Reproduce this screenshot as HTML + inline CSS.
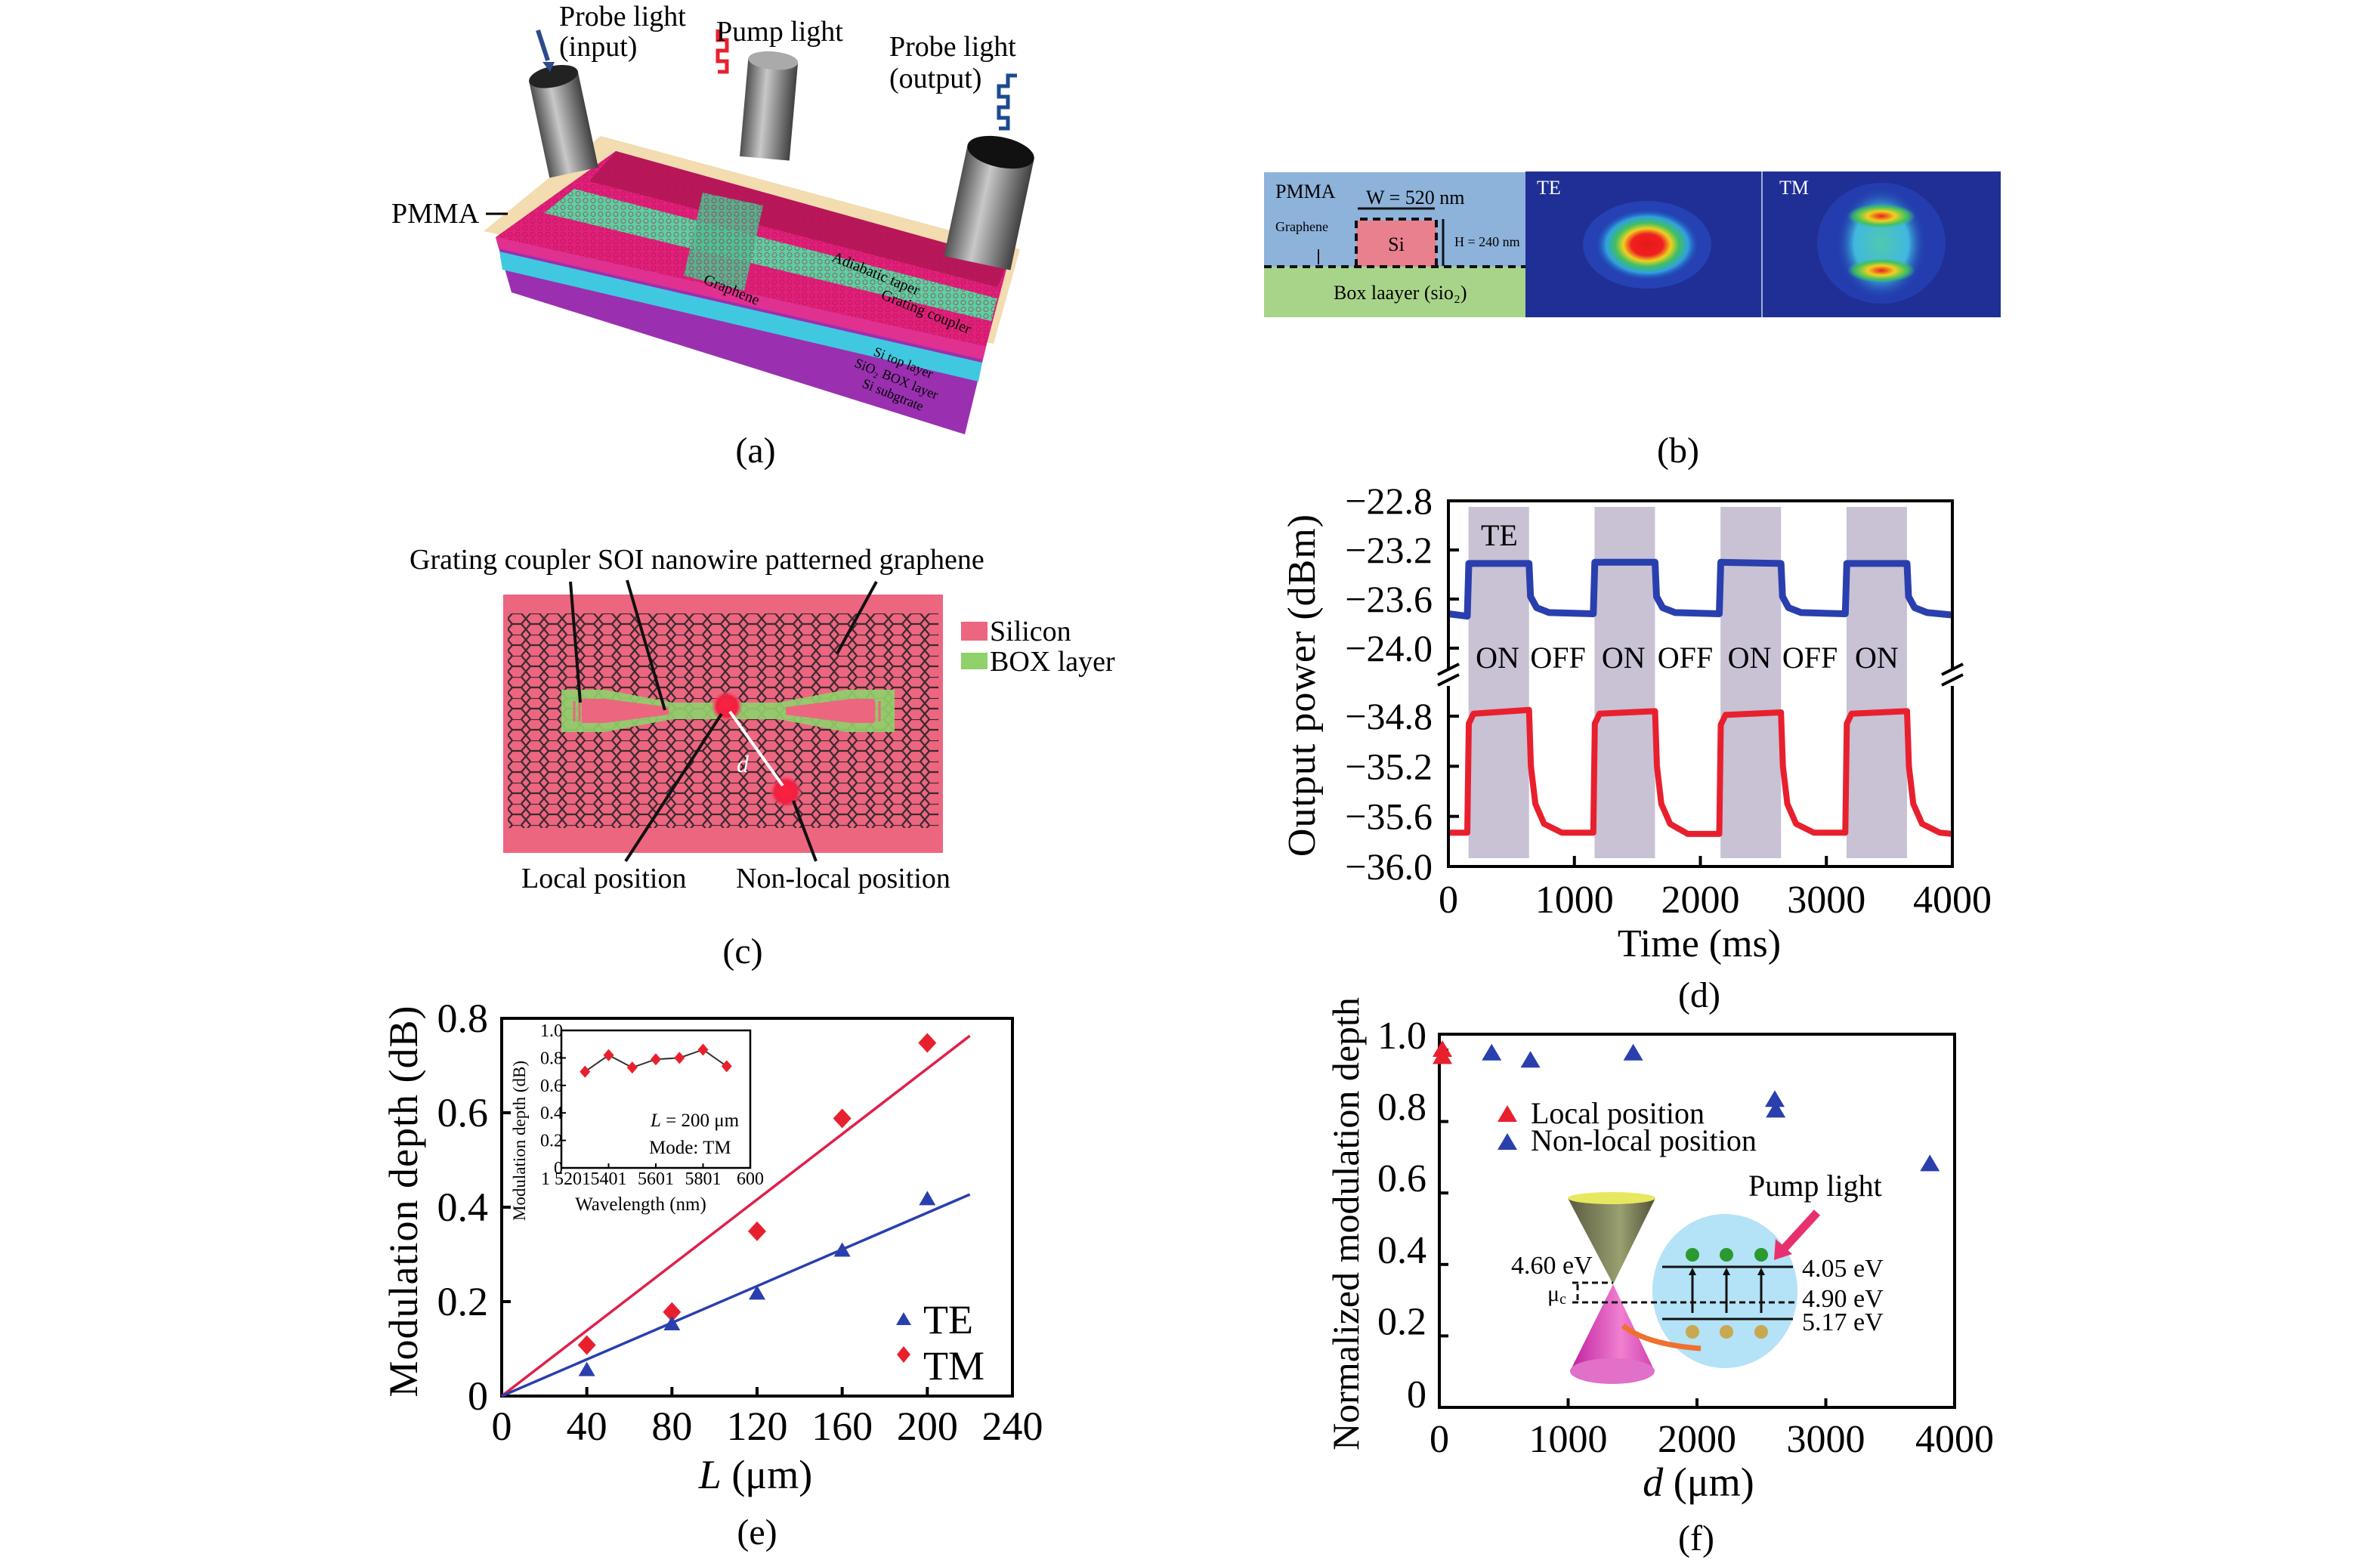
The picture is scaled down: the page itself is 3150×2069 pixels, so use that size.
<!DOCTYPE html>
<html><head><meta charset="utf-8"><style>
html,body{margin:0;padding:0;background:#fff;}
svg{display:block;font-family:"Liberation Serif",serif;}
</style></head><body>
<svg id="fig" xmlns="http://www.w3.org/2000/svg" width="3150" height="2069" viewBox="0 0 3150 2069">
<defs>
<pattern id="hex" width="24" height="28" patternUnits="userSpaceOnUse">
<path d="M6,0 L18,0 L24,7 L18,14 L6,14 L0,7 Z M6,14 L0,21 L6,28 M18,14 L24,21 L18,28" fill="none" stroke="#3a2a30" stroke-width="2.2"/>
</pattern>
<pattern id="hexfine" width="10" height="9" patternUnits="userSpaceOnUse">
<circle cx="5" cy="4.5" r="3" fill="none" stroke="#b01050" stroke-width="1" opacity="0.6"/>
</pattern>
<radialGradient id="teg" cx="50%" cy="50%" r="50%">
<stop offset="0" stop-color="#e81818"/><stop offset="0.3" stop-color="#f02020"/><stop offset="0.45" stop-color="#f0d020"/><stop offset="0.6" stop-color="#40c060"/><stop offset="0.78" stop-color="#30a0e0"/><stop offset="1" stop-color="#1c3aa8" stop-opacity="0"/>
</radialGradient>
<radialGradient id="tmg" cx="50%" cy="50%" r="50%">
<stop offset="0" stop-color="#50c8b0"/><stop offset="0.6" stop-color="#40b8e0"/><stop offset="1" stop-color="#1c3aa8" stop-opacity="0"/>
</radialGradient>
<radialGradient id="lobe" cx="50%" cy="50%" r="50%">
<stop offset="0" stop-color="#e82020"/><stop offset="0.4" stop-color="#f0d020"/><stop offset="0.75" stop-color="#40c060"/><stop offset="1" stop-color="#40c060" stop-opacity="0"/>
</radialGradient>
<linearGradient id="cyl" x1="0" x2="1"><stop offset="0" stop-color="#505050"/><stop offset="0.4" stop-color="#c8c8c8"/><stop offset="1" stop-color="#404040"/></linearGradient>
<linearGradient id="cone1" x1="0" x2="1"><stop offset="0" stop-color="#5a5a40"/><stop offset="0.6" stop-color="#9aa070"/><stop offset="1" stop-color="#505038"/></linearGradient>
<linearGradient id="cone2" x1="0" x2="1"><stop offset="0" stop-color="#c020a0"/><stop offset="0.6" stop-color="#f080d0"/><stop offset="1" stop-color="#d040b0"/></linearGradient>
<radialGradient id="redspot"><stop offset="0" stop-color="#ff2040"/><stop offset="0.7" stop-color="#f02040"/><stop offset="1" stop-color="#f06080" stop-opacity="0.3"/></radialGradient>
</defs>

<!-- ===== Panel (a) ===== -->
<g>
<polygon points="795,180 1350,330 1315,455 640,306" fill="#f2dcb0"/>
<polygon points="815,200 1335,345 1305,459 656,314" fill="#e0207a"/>
<polygon points="815,200 1335,345 1320,380 780,240" fill="#b8185a"/>
<polygon points="760,250 1320,395 1312,425 720,282" fill="#5cd0a0"/>
<polygon points="930,255 1010,272 985,385 905,365" fill="#4cc090" opacity="0.9"/>
<polygon points="815,200 1335,345 1305,459 656,314" fill="url(#hexfine)"/>
<polygon points="656,314 1305,459 1277,575 677,387" fill="#9a30b0"/>
<polygon points="656,314 1305,459 1301,476 660,329" fill="#e03090"/>
<polygon points="661,333 1300,480 1295,505 665,357" fill="#40c8e0"/>
<text x="930" y="375" font-size="20" transform="rotate(22 930 375)">Graphene</text>
<text x="1100" y="345" font-size="20" transform="rotate(22 1100 345)">Adiabatic taper</text>
<text x="1165" y="395" font-size="20" transform="rotate(22 1165 395)">Grating coupler</text>
<text x="1155" y="470" font-size="18" transform="rotate(22 1155 470)">Si top layer</text>
<text x="1130" y="485" font-size="18" transform="rotate(22 1130 485)">SiO₂ BOX layer</text>
<text x="1140" y="512" font-size="18" transform="rotate(22 1140 512)">Si subgtrate</text>
<g transform="rotate(-12 745 160)"><rect x="712" y="100" width="66" height="130" fill="url(#cyl)"/><ellipse cx="745" cy="100" rx="33" ry="14" fill="#222"/></g>
<g transform="rotate(5 1018 140)"><rect x="985" y="80" width="66" height="130" fill="url(#cyl)"/><ellipse cx="1018" cy="80" rx="33" ry="12" fill="#aaa"/></g>
<g transform="rotate(12 1310 270)"><rect x="1265" y="200" width="90" height="150" fill="url(#cyl)"/><ellipse cx="1310" cy="200" rx="45" ry="20" fill="#111"/></g>
<path d="M712,40 L725,80" stroke="#2c4a8c" stroke-width="6"/><polygon points="718,82 734,82 728,95" fill="#2c4a8c"/>
<path d="M950,95 h12 v-14 h-12 v-14 h12 v-14 h-12 v-14" fill="none" stroke="#e8202e" stroke-width="5"/>
<path d="M1322,170 h12 v-14 h-12 v-14 h12 v-14 h-12 v-14 h12 v-14 h12" fill="none" stroke="#1c4a90" stroke-width="5"/>
<g font-size="38">
<text x="740" y="34">Probe light</text><text x="740" y="74">(input)</text>
<text x="948" y="54">Pump light</text>
<text x="1177" y="74">Probe light</text><text x="1177" y="116">(output)</text>
<text x="518" y="295">PMMA</text>
</g>
<path d="M643,283 L672,283" stroke="#000" stroke-width="3"/>
<text x="1000" y="612" font-size="48" text-anchor="middle">(a)</text>
</g>

<!-- ===== Panel (b) ===== -->
<g>
<rect x="1673" y="228" width="346" height="125" fill="#8db3da"/>
<rect x="1673" y="353" width="346" height="67" fill="#a8d48a"/>
<rect x="1795" y="292" width="106" height="61" fill="#e8808e"/>
<path d="M1673,353 H2019 M1795,353 V290 H1901 V353" fill="none" stroke="#111" stroke-width="4" stroke-dasharray="10 7"/>
<path d="M1797,276 H1899 M1910,290 V352" stroke="#111" stroke-width="3"/>
<path d="M1745,330 L1745,350" stroke="#111" stroke-width="2"/>
<text x="1688" y="262" font-size="26">PMMA</text>
<text x="1808" y="270" font-size="26">W = 520 nm</text>
<text x="1688" y="306" font-size="18">Graphene</text>
<text x="1848" y="332" font-size="26" text-anchor="middle">Si</text>
<text x="1925" y="326" font-size="18">H = 240 nm</text>
<text x="1765" y="396" font-size="26">Box laayer (sio₂)</text>
<rect x="2019" y="227" width="313" height="193" fill="#1f2f95"/>
<ellipse cx="2180" cy="324" rx="85" ry="58" fill="#2848c0" opacity="0.7"/>
<ellipse cx="2180" cy="324" rx="70" ry="48" fill="url(#teg)"/>
<text x="2034" y="257" font-size="26" fill="#fff">TE</text>
<rect x="2332" y="227" width="316" height="193" fill="#1f2f95"/>
<line x1="2332" y1="227" x2="2332" y2="420" stroke="#a0b0d0" stroke-width="2"/>
<ellipse cx="2490" cy="322" rx="85" ry="80" fill="#2848c0" opacity="0.6"/>
<ellipse cx="2490" cy="322" rx="60" ry="75" fill="url(#tmg)"/>
<ellipse cx="2490" cy="286" rx="45" ry="16" fill="url(#lobe)"/>
<ellipse cx="2490" cy="358" rx="45" ry="16" fill="url(#lobe)"/>
<text x="2355" y="257" font-size="26" fill="#fff">TM</text>
<text x="2221" y="612" font-size="48" text-anchor="middle">(b)</text>
</g>

<!-- ===== Panel (c) ===== -->
<g>
<rect x="666" y="787" width="582" height="342" fill="#ec6680"/>
<rect x="672" y="812" width="570" height="284" fill="url(#hex)"/>
<polygon points="743,913 800,913 890,930 1030,930 1120,913 1184,913 1184,969 1120,969 1030,952 890,952 800,969 743,969" fill="#8fd16a" opacity="0.9"/>
<polygon points="770,925 800,925 885,936 885,946 800,957 770,957" fill="#ec6680"/>
<polygon points="1157,925 1127,925 1040,936 1040,946 1127,957 1157,957" fill="#ec6680"/>
<path d="M760,928 V955 M767,928 V955 M774,928 V955 M1150,928 V955 M1157,928 V955 M1164,928 V955" stroke="#ec6680" stroke-width="3"/>
<circle cx="962" cy="935" r="20" fill="url(#redspot)"/>
<circle cx="1040" cy="1048" r="21" fill="url(#redspot)"/>
<path d="M966,942 L1036,1040" stroke="#fff" stroke-width="4"/>
<text x="975" y="1022" font-size="32" font-style="italic" fill="#fff">d</text>
<path d="M755,770 L768,930 M830,768 L880,940 M1160,770 L1108,865 M955,945 L828,1140 M1050,1060 L1080,1140" stroke="#111" stroke-width="4" fill="none"/>
<text x="542" y="753" font-size="38">Grating coupler SOI nanowire patterned graphene</text>
<rect x="1272" y="823" width="35" height="25" fill="#ec6680"/>
<text x="1310" y="848" font-size="38">Silicon</text>
<rect x="1272" y="864" width="35" height="22" fill="#8fd16a"/>
<text x="1310" y="888" font-size="38">BOX layer</text>
<text x="690" y="1175" font-size="38">Local position</text>
<text x="974" y="1175" font-size="38">Non-local position</text>
<text x="983" y="1275" font-size="48" text-anchor="middle">(c)</text>
</g>

<g id="pd"></g>
<g id="pe"></g>
<g id="pf"></g>
</svg>
<script>
// ---- Panel d data ----
const dTimeTicks = [0, 1000, 2000, 3000, 4000];
const dUpperTicks = [-22.8, -23.2, -23.6, -24.0];
const dLowerTicks = [-34.8, -35.2, -35.6, -36.0];
const dOnStart = [160, 1160, 2160, 3160];
const dOnEnd = [640, 1640, 2640, 3640];
const dBlueT = [0,150,162,640,652,700,800,1150,1162,1640,1652,1700,1800,2150,2162,2640,2652,2700,2800,3150,3162,3640,3652,3700,3800,4000];
const dBlueV = [-23.72,-23.74,-23.31,-23.31,-23.58,-23.67,-23.71,-23.72,-23.30,-23.30,-23.58,-23.67,-23.71,-23.72,-23.30,-23.31,-23.58,-23.67,-23.71,-23.72,-23.31,-23.31,-23.58,-23.67,-23.71,-23.73];
const dRedT = [0,150,162,200,640,655,690,760,900,1150,1162,1200,1640,1655,1690,1760,1900,2150,2162,2200,2640,2655,2690,2760,2900,3150,3162,3200,3640,3655,3690,3760,3900,4000];
const dRedV = [-35.73,-35.73,-34.86,-34.78,-34.75,-35.2,-35.5,-35.66,-35.73,-35.73,-34.86,-34.78,-34.76,-35.2,-35.5,-35.66,-35.74,-35.74,-34.87,-34.79,-34.77,-35.2,-35.5,-35.66,-35.73,-35.73,-34.86,-34.78,-34.76,-35.2,-35.5,-35.66,-35.73,-35.74];
const dStateLabels = ["ON","OFF","ON","OFF","ON","OFF","ON"];
const dStateTimes = [390, 870, 1390, 1880, 2390, 2870, 3400];

// ---- Panel e data ----
const eXTicks = [0, 40, 80, 120, 160, 200, 240];
const eYTicks = [0, 0.2, 0.4, 0.6, 0.8];
const eYTickLabels = ["0", "0.2", "0.4", "0.6", "0.8"];
const eL = [40, 80, 120, 160, 200];
const eTE = [0.055, 0.152, 0.217, 0.308, 0.417];
const eTM = [0.108, 0.178, 0.349, 0.588, 0.748];
const eFitX = [0, 220];
const eFitTE = [0, 0.427];
const eFitTM = [0, 0.763];
const insetWl = [1530, 1540, 1550, 1560, 1570, 1580, 1590];
const insetDepth = [0.70, 0.82, 0.73, 0.79, 0.80, 0.86, 0.74];
const insetXTicks = [1520, 1540, 1560, 1580, 1600];
const insetXTickLabels = ["1 5201", "5401", "5601", "5801", "600"];
const insetYTicks = [0, 0.2, 0.4, 0.6, 0.8, 1.0];
const insetYTickLabels = ["0", "0.2", "0.4", "0.6", "0.8", "1.0"];

// ---- Panel f data ----
const fXTicks = [0, 1000, 2000, 3000, 4000];
const fYTicks = [0, 0.2, 0.4, 0.6, 0.8, 1.0];
const fYTickLabels = ["0", "0.2", "0.4", "0.6", "0.8", "1.0"];
const fLocalD = [0, 0];
const fLocalV = [1.0, 0.98];
const fNonlocalD = [406, 707, 1505, 2604, 2611, 3808];
const fNonlocalV = [0.99, 0.97, 0.99, 0.86, 0.83, 0.68];

const NS = "http://www.w3.org/2000/svg";
function mk(parent, tag, attrs, text) {
  const el = document.createElementNS(NS, tag);
  for (const k in attrs) el.setAttribute(k, attrs[k]);
  if (text !== undefined) el.textContent = text;
  parent.appendChild(el);
  return el;
}
function fmtMinus(v){ return v.toFixed(1).replace("-", "\u2212"); }

// ===== Panel d =====
(function(){
  const g = document.getElementById("pd");
  const L=1917, R=2584, T=663, B=1147;
  const x = t => L + (t/4000)*(R-L);
  const yU = v => 663 + (-22.8 - v)/1.2*(858-663);
  const yL = v => 948 + (-34.8 - v)/1.2*(1147-948);
  for (let i=0;i<dOnStart.length;i++){
    const r = mk(g,"rect",{x:x(dOnStart[i]),y:671,width:x(dOnEnd[i])-x(dOnStart[i]),height:1136-671,fill:"#c9c1d4"});
    
    
  }
  let p="";
  dBlueT.forEach((t,i)=>{p+=(i?"L":"M")+x(t).toFixed(1)+","+yU(dBlueV[i]).toFixed(1);});
  const bl = mk(g,"path",{d:p,fill:"none",stroke:"#2a3fae","stroke-width":9,"stroke-linejoin":"round"});
  
  
  p="";
  dRedT.forEach((t,i)=>{p+=(i?"L":"M")+x(t).toFixed(1)+","+yL(dRedV[i]).toFixed(1);});
  const rl = mk(g,"path",{d:p,fill:"none",stroke:"#e8202e","stroke-width":8,"stroke-linejoin":"round"});
  
  
  mk(g,"path",{d:`M${L},${896-10} V${T} H${R} V${896-10} M${L},${896+12} V${B} H${R} V${896+12}`,fill:"none",stroke:"#000","stroke-width":4});
  mk(g,"path",{d:`M${L-14},${893} L${L+14},${879} M${L-14},${907} L${L+14},${893} M${R-14},${893} L${R+14},${879} M${R-14},${907} L${R+14},${893}`,stroke:"#000","stroke-width":4});
  dUpperTicks.forEach(v=>{
    if (v!==-22.8) mk(g,"line",{x1:L,x2:L+14,y1:yU(v),y2:yU(v),stroke:"#000","stroke-width":4});
    const t = mk(g,"text",{x:1896,y:yU(v)+17,"font-size":50,"text-anchor":"end"},fmtMinus(v));
    
    
  });
  dLowerTicks.forEach(v=>{
    if (v!==-36.0) mk(g,"line",{x1:L,x2:L+14,y1:yL(v),y2:yL(v),stroke:"#000","stroke-width":4});
    const t = mk(g,"text",{x:1896,y:yL(v)+17,"font-size":50,"text-anchor":"end"},fmtMinus(v));
    
    
  });
  dTimeTicks.forEach(v=>{
    if (v>0 && v<4000) mk(g,"line",{x1:x(v),x2:x(v),y1:B,y2:B-14,stroke:"#000","stroke-width":4});
    const t = mk(g,"text",{x:x(v),y:1208,"font-size":52,"text-anchor":"middle"},String(v));
    
    
  });
  dStateLabels.forEach((s,i)=>{
    const t = mk(g,"text",{x:x(dStateTimes[i]),y:884,"font-size":40,"text-anchor":"middle"},s);
    
    
  });
  const te = mk(g,"text",{x:1960,y:722,"font-size":40},"TE");
  
  
  const xt = mk(g,"text",{x:2249,y:1266,"font-size":52,"text-anchor":"middle"},"Time (ms)");
  
  
  const yt = mk(g,"text",{x:0,y:0,"font-size":52,"text-anchor":"middle","letter-spacing":"1",transform:"translate(1740,907) rotate(-90)"},"Output power (dBm)");
  
  
  const lb = mk(g,"text",{x:2249,y:1333,"font-size":48,"text-anchor":"middle"},"(d)");
  
  
})();

// ===== Panel e =====
(function(){
  const g = document.getElementById("pe");
  const L=664, R=1340, T=1348, B=1848;
  const x = v => L + v/240*(R-L);
  const y = v => B - v/0.8*(B-T);
  mk(g,"rect",{x:L,y:T,width:R-L,height:B-T,fill:"none",stroke:"#000","stroke-width":4});
  eXTicks.forEach(v=>{
    if (v>0 && v<240) mk(g,"line",{x1:x(v),x2:x(v),y1:B,y2:B-12,stroke:"#000","stroke-width":4});
    const t = mk(g,"text",{x:x(v),y:1906,"font-size":54,"text-anchor":"middle"},String(v));
    
    
  });
  eYTicks.forEach((v,i)=>{
    if (v>0 && v<0.8) mk(g,"line",{x1:L,x2:L+12,y1:y(v),y2:y(v),stroke:"#000","stroke-width":4});
    const t = mk(g,"text",{x:646,y:y(v)+18,"font-size":54,"text-anchor":"end"},eYTickLabels[i]);
    
    
  });
  const fm = mk(g,"line",{x1:x(eFitX[0]),y1:y(eFitTM[0]),x2:x(eFitX[1]),y2:y(eFitTM[1]),stroke:"#e0204a","stroke-width":3.5});
  
  
  const fe = mk(g,"line",{x1:x(eFitX[0]),y1:y(eFitTE[0]),x2:x(eFitX[1]),y2:y(eFitTE[1]),stroke:"#2a3fae","stroke-width":3.5});
  
  
  eL.forEach((l,i)=>{
    const cx=x(l), cy=y(eTM[i]);
    const d = mk(g,"polygon",{points:`${cx},${cy-13} ${cx+12},${cy} ${cx},${cy+13} ${cx-12},${cy}`,fill:"#e8202e"});
    
    
    const ty=y(eTE[i]);
    const tr = mk(g,"polygon",{points:`${cx},${ty-11} ${cx+11},${ty+8} ${cx-11},${ty+8}`,fill:"#2a3fae"});
    
    
  });
  mk(g,"polygon",{points:"1196,1737 1206,1754 1186,1754",fill:"#2a3fae"});
  mk(g,"polygon",{points:"1196,1782 1205,1793 1196,1804 1187,1793",fill:"#e8202e"});
  const lt = mk(g,"text",{x:1222,y:1765,"font-size":54},"TE");
  
  
  const lm = mk(g,"text",{x:1222,y:1826,"font-size":54},"TM");
  
  
  const iL=743, iR=993, iT=1364, iB=1546;
  const ix = v => iL + (v-1520)/80*(iR-iL);
  const iy = v => iB - v*(iB-iT);
  mk(g,"rect",{x:iL,y:iT,width:iR-iL,height:iB-iT,fill:"#fff",stroke:"#000","stroke-width":2.5});
  insetXTicks.forEach((v,i)=>{
    if (v>1520 && v<1600) mk(g,"line",{x1:ix(v),x2:ix(v),y1:iB,y2:iB-6,stroke:"#000","stroke-width":2});
    const t = mk(g,"text",{x:ix(v)+(i===0?6:0),y:1568,"font-size":24,"text-anchor":"middle"},insetXTickLabels[i]);
    
    
  });
  insetYTicks.forEach((v,i)=>{
    if (v>0 && v<1) mk(g,"line",{x1:iL,x2:iL+6,y1:iy(v),y2:iy(v),stroke:"#000","stroke-width":2});
    const t = mk(g,"text",{x:iL+2,y:iy(v)+8,"font-size":24,"text-anchor":"end"},insetYTickLabels[i]);
    
    
  });
  let p="";
  insetWl.forEach((w,i)=>{p+=(i?"L":"M")+ix(w)+","+iy(insetDepth[i]);});
  mk(g,"path",{d:p,fill:"none",stroke:"#333","stroke-width":2});
  insetWl.forEach((w,i)=>{
    const cx=ix(w), cy=iy(insetDepth[i]);
    const d = mk(g,"polygon",{points:`${cx},${cy-8} ${cx+7},${cy} ${cx},${cy+8} ${cx-7},${cy}`,fill:"#e8202e"});
    
    
  });
  const a1 = mk(g,"text",{x:861,y:1491,"font-size":25},"");
  mk(a1,"tspan",{"font-style":"italic"},"L");
  mk(a1,"tspan",{},"\u00a0= 200 \u03bcm");
  
  
  const a2 = mk(g,"text",{x:859,y:1527,"font-size":25},"Mode: TM");
  
  
  const a3 = mk(g,"text",{x:848,y:1602,"font-size":25,"text-anchor":"middle"},"Wavelength (nm)");
  
  
  const a4 = mk(g,"text",{x:0,y:0,"font-size":23,"text-anchor":"middle",transform:"translate(695,1510) rotate(-90)"},"Modulation depth (dB)");
  
  
  const xt = mk(g,"text",{x:1000,y:1970,"font-size":54,"text-anchor":"middle"},"");
  mk(xt,"tspan",{"font-style":"italic"},"L");
  mk(xt,"tspan",{}," (\u03bcm)");
  
  
  const yt = mk(g,"text",{x:0,y:0,"font-size":54,"text-anchor":"middle","letter-spacing":"1",transform:"translate(552,1590) rotate(-90)"},"Modulation depth (dB)");
  
  
  const lb = mk(g,"text",{x:1002,y:2044,"font-size":48,"text-anchor":"middle"},"(e)");
  
  
})();

// ===== Panel f =====
(function(){
  const g = document.getElementById("pf");
  const L=1905, R=2587, T=1369, B=1863;
  const x = v => L + v/4000*(R-L);
  const y = v => B - v*473;
  mk(g,"ellipse",{cx:2283,cy:1709,rx:96,ry:102,fill:"#b4e2f6"});
  mk(g,"polygon",{points:"2075,1586 2191,1586 2135,1700",fill:"url(#cone1)"});
  mk(g,"ellipse",{cx:2133,cy:1586,rx:58,ry:8,fill:"#e8e860"});
  mk(g,"polygon",{points:"2135,1700 2078,1815 2190,1815",fill:"url(#cone2)"});
  mk(g,"ellipse",{cx:2134,cy:1815,rx:56,ry:17,fill:"#e070c8"});
  mk(g,"path",{d:"M2081,1698 H2135 M2081,1724 H2376 M2088,1700 V1722",fill:"none",stroke:"#111","stroke-width":3,"stroke-dasharray":"8 5"});
  mk(g,"path",{d:"M2200,1677 H2373 M2200,1746 H2373 M2240,1738 V1684 M2285,1738 V1684 M2331,1738 V1684",fill:"none",stroke:"#111","stroke-width":3});
  [2240,2285,2331].forEach(cx=>{
    mk(g,"polygon",{points:`${cx-5},1688 ${cx+5},1688 ${cx},1678`,fill:"#111"});
    mk(g,"circle",{cx:cx,cy:1661,r:9,fill:"#2a9a30"});
    mk(g,"circle",{cx:cx,cy:1763,r:9,fill:"#c8a850"});
  });
  mk(g,"path",{d:"M2405,1605 L2362,1652",stroke:"#e83070","stroke-width":11});
  mk(g,"polygon",{points:"2350,1640 2372,1660 2348,1668",fill:"#e83070"});
  mk(g,"path",{d:"M2251,1785 Q2180,1780 2148,1755",fill:"none",stroke:"#f07030","stroke-width":7});
  const iLabels=[["4.60 eV",2000,1686],["4.05 eV",2385,1690],["4.90 eV",2385,1730],["5.17 eV",2385,1761]];
  iLabels.forEach(a=>{ mk(g,"text",{x:a[1],y:a[2],"font-size":34},a[0]); });
  const mu = mk(g,"text",{x:2048,y:1722,"font-size":30},"\u03bc");
  mk(mu,"tspan",{"font-size":20,dy:"4"},"c");
  const pl = mk(g,"text",{x:2314,y:1583,"font-size":40},"Pump light");
  
  
  mk(g,"rect",{x:L,y:T,width:R-L,height:B-T,fill:"none",stroke:"#000","stroke-width":4});
  fXTicks.forEach(v=>{
    if (v>0 && v<4000) mk(g,"line",{x1:x(v),x2:x(v),y1:B,y2:B-12,stroke:"#000","stroke-width":4});
    const t = mk(g,"text",{x:x(v),y:1922,"font-size":52,"text-anchor":"middle"},String(v));
    
    
  });
  fYTicks.forEach((v,i)=>{
    if (v>0) mk(g,"line",{x1:L,x2:L+12,y1:y(v),y2:y(v),stroke:"#000","stroke-width":4});
    const t = mk(g,"text",{x:1888,y:y(v)+(v>0?-2:0),"font-size":52,"text-anchor":"end"},fYTickLabels[i]);
    
    
  });
  function tri(cx,cy,col,name){
    const t = mk(g,"polygon",{points:`${cx},${cy-13} ${cx+13},${cy+9} ${cx-13},${cy+9}`,fill:col});
    
    
  }
  fLocalD.forEach((d,i)=>tri(x(d)+4,y(fLocalV[i]),"#e8202e","local-point"));
  fNonlocalD.forEach((d,i)=>tri(x(d),y(fNonlocalV[i]),"#2a3fae","nonlocal-point"));
  tri(1995,1476,"#e8202e","legend-local-marker");
  tri(1995,1513,"#2a3fae","legend-nonlocal-marker");
  const l1 = mk(g,"text",{x:2026,y:1487,"font-size":40},"Local position");
  
  
  const l2 = mk(g,"text",{x:2026,y:1523,"font-size":40},"Non-local position");
  
  
  const xt = mk(g,"text",{x:2248,y:1980,"font-size":54,"text-anchor":"middle"},"");
  mk(xt,"tspan",{"font-style":"italic"},"d");
  mk(xt,"tspan",{}," (\u03bcm)");
  
  
  const yt = mk(g,"text",{x:0,y:0,"font-size":50,"text-anchor":"middle",transform:"translate(1798,1620) rotate(-90)"},"Normalized modulation depth");
  
  
  const lb = mk(g,"text",{x:2245,y:2052,"font-size":48,"text-anchor":"middle"},"(f)");
  
  
})();
</script>
</body></html>
